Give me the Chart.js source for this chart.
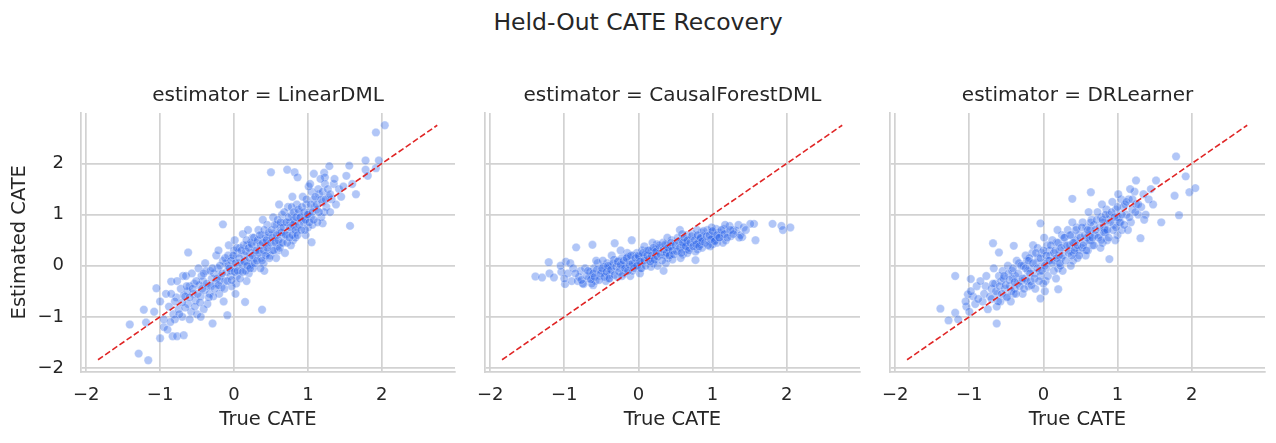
<!DOCTYPE html>
<html>
<head>
<meta charset="utf-8">
<script src="https://cdn.jsdelivr.net/npm/chart.js@4.4.1/dist/chart.umd.min.js"></script>
<style>
  html, body { margin: 0; padding: 0; background: #ffffff; }
  body { width: 1276px; height: 443px; position: relative; overflow: hidden; font-family: "DejaVu Sans", sans-serif; }
  #suptitle { position: absolute; left: 0; width: 1276px; top: 8px; text-align: center; font-size: 23.5px; color: #262626; }
  .panel { position: absolute; top: 80px; height: 363px; }
</style>
</head>
<body>
<div id="suptitle">Held-Out CATE Recovery</div>
<div class="panel" style="left:0px;width:460px"><canvas id="chartLinear"></canvas></div>
<div class="panel" style="left:460px;width:405px"><canvas id="chartForest"></canvas></div>
<div class="panel" style="left:865px;width:411px"><canvas id="chartDr"></canvas></div>
<script>
// facet titles and shared axes
const panelTitles = ['estimator = LinearDML', 'estimator = CausalForestDML', 'estimator = DRLearner'];
const axisTicks = [-2, -1, 0, 1, 2];
const axisRange = [-2.07, 2.99];
const diagonalEnds = [-1.84, 2.75];

// [true CATE, estimated CATE]
const linearDmlPoints = [
  [2.04,2.75],[1.92,2.61],[1.78,2.06],[1.96,2.06],[1.78,1.88],[1.81,1.76],[1.92,1.91],[1.56,1.96],[1.52,1.76],[1.29,1.95],
  [1.57,0.78],[0.50,1.83],[0.72,1.88],[0.82,1.83],[0.86,1.73],[0.38,-0.86],[1.05,0.46],[1.20,0.83],[-1.41,-1.15],[-1.29,-1.72],
  [-1.16,-1.85],[-1.22,-0.86],[-1.19,-1.11],[-1.05,-0.44],[-1.00,-1.42],[-0.95,-1.20],[-0.62,0.26],[-0.15,0.81],[-0.09,-0.97],[-0.29,-1.13],
  [0.15,-0.71],[-0.85,-0.31],[-0.69,-0.20],[-0.83,-1.38],[-0.77,-1.38],[-0.68,-1.36],[1.22,1.82],[1.08,1.80],[1.23,1.73],
  [-1.08,-0.90],[-1.00,-0.70],[-0.95,-1.05],[-0.92,-0.55],[-0.90,-1.25],[1.60,1.60],[1.65,1.40],
  [-0.82,-0.95],[-0.78,-0.62],[-0.75,-0.85],[-0.72,-0.45],[-0.80,-0.70],[-0.70,-1.00],[-0.68,-0.58],[-0.85,-0.55],[-0.77,-0.30],[-0.88,-0.80],
  [-0.62,-0.75],[-0.60,-0.40],[-0.58,-0.90],[-0.65,-0.20],[-0.55,-0.55],[-0.52,-0.68],[-0.63,-0.50],[-0.57,-0.15],[-0.50,-0.95],[-0.66,-0.82],[-0.54,-0.35],
  [-0.45,-0.60],[-0.42,-0.30],[-0.40,-0.48],[-0.38,-0.10],[-0.36,-0.75],[-0.44,-0.20],[-0.35,-0.40],[-0.48,-0.05],[-0.41,-0.85],[-0.33,-0.55],[-0.39,0.05],[-0.47,-0.38],[-0.30,-0.25],
  [-0.25,-0.35],[-0.22,-0.05],[-0.20,-0.55],[-0.18,-0.20],[-0.15,0.10],[-0.28,-0.60],[-0.12,-0.30],[-0.24,0.20],[-0.17,-0.42],[-0.10,-0.12],[-0.21,0.30],[-0.14,-0.70],[-0.27,-0.15],[-0.11,0.05],[-0.19,-0.28],
  [-0.05,-0.20],[-0.02,0.15],[0.00,-0.05],[0.03,-0.35],[0.05,0.25],[-0.07,0.40],[0.02,-0.55],[0.06,0.05],[-0.04,-0.10],[0.08,0.35],[0.01,0.50],[0.04,-0.20],[-0.08,0.00],[0.09,-0.10],[0.00,0.30],[-0.03,-0.40],
  [0.15,0.10],[0.18,0.40],[0.20,-0.15],[0.22,0.25],[0.25,0.55],[0.17,-0.30],[0.24,0.05],[0.28,0.30],[0.12,0.62],[0.21,0.00],[0.26,-0.05],[0.19,0.70],[0.14,0.20],[0.23,0.45],[0.29,0.15],[0.16,-0.10],
  [0.35,0.30],[0.38,0.60],[0.40,0.05],[0.42,0.45],[0.45,0.80],[0.37,0.15],[0.44,0.25],[0.48,0.60],[0.33,0.70],[0.41,-0.10],[0.46,0.40],[0.39,0.90],[0.43,0.55],[0.36,-0.05],[0.49,0.20],[0.31,0.45],
  [0.55,0.50],[0.58,0.80],[0.60,0.30],[0.62,0.65],[0.65,1.00],[0.57,0.15],[0.64,0.45],[0.68,0.85],[0.53,0.95],[0.61,1.20],[0.66,0.60],[0.59,0.38],[0.63,0.75],[0.56,0.65],[0.69,0.25],[0.52,0.30],
  [0.75,0.70],[0.78,1.00],[0.80,0.50],[0.82,0.85],[0.85,1.20],[0.77,0.40],[0.84,0.65],[0.88,1.05],[0.73,1.15],[0.81,0.90],[0.86,0.75],[0.79,1.35],[0.83,0.55],[0.76,0.85],[0.89,0.95],[0.72,0.60],
  [0.95,0.90],[0.98,1.20],[1.00,0.75],[1.02,1.05],[1.05,1.45],[0.97,0.60],[1.04,0.95],[1.08,1.30],[0.93,1.35],[1.01,1.55],[1.06,0.80],[0.99,1.00],[1.03,1.60],[0.96,0.70],[1.09,1.15],
  [1.12,1.10],[1.15,1.40],[1.18,0.95],[1.20,1.25],[1.23,1.60],[1.14,1.50],[1.25,1.15],[1.17,1.70],[1.28,1.35],[1.13,0.85],[1.22,1.05],
  [1.32,1.30],[1.35,1.60],[1.38,1.20],[1.42,1.50],[1.45,1.35],[1.36,1.70],[1.48,1.55],[1.30,1.05],
  [-0.70,-0.72],[-0.66,-0.60],[-0.64,-0.40],[-0.60,-0.62],[-0.56,-0.45],[-0.53,-0.80],[-0.51,-0.30],[-0.49,-0.55],[-0.46,-0.72],[-0.43,-0.45],
  [-0.41,-0.15],[-0.37,-0.35],[-0.34,-0.62],[-0.32,-0.10],[-0.31,-0.40],[-0.29,-0.05],[-0.26,-0.45],[-0.23,-0.25],[-0.21,-0.38],[-0.19,0.00],
  [-0.16,-0.15],[-0.13,-0.45],[-0.12,0.15],[-0.09,-0.30],[-0.08,0.20],[-0.06,-0.05],[-0.04,0.10],[-0.03,-0.28],[-0.01,0.20],[0.01,-0.12],
  [0.02,0.05],[0.04,0.35],[0.05,-0.10],[0.07,0.15],[0.08,-0.25],[0.10,0.30],[0.11,0.02],[0.12,-0.12],[0.13,0.40],[0.14,0.08],
  [0.16,0.28],[0.17,0.50],[0.18,0.00],[0.20,0.35],[0.21,0.15],[0.22,-0.05],[0.24,0.42],[0.25,0.20],[0.27,0.55],[0.28,0.05],
  [0.30,0.30],[0.31,0.10],[0.32,0.50],[0.34,0.25],[0.35,0.60],[0.36,0.40],[0.38,0.10],[0.39,0.45],[0.40,0.30],[0.41,0.70],
  [0.43,0.20],[0.44,0.50],[0.45,0.35],[0.47,0.65],[0.48,0.15],[0.50,0.45],[0.51,0.70],[0.52,0.55],[0.54,0.30],[0.55,0.80],
  [0.56,0.45],[0.58,0.60],[0.59,0.90],[0.60,0.50],[0.62,0.35],[0.63,0.85],[0.64,0.65],[0.66,0.45],[0.67,0.75],[0.68,1.05],
  [0.70,0.60],[0.71,0.85],[0.72,0.45],[0.74,0.95],[0.75,0.55],[0.76,0.75],[0.78,1.15],[0.79,0.60],[0.80,0.80],[0.81,1.05],
  [0.83,0.70],[0.84,0.95],[0.86,0.60],[0.87,1.10],[0.88,0.80],[0.90,0.95],[0.91,0.70],[0.92,1.15],[0.94,0.85],[0.95,1.05],
  [0.97,0.90],[0.98,1.30],[1.00,1.00],[1.02,0.85],[1.04,1.20],[1.06,1.05],[1.08,0.90],[1.10,1.35],[1.12,1.20],[1.15,1.05],
  [1.18,1.30],[1.20,1.45],[1.24,1.30],[1.27,1.50],[1.30,1.40],
  [-0.74,-0.95],[-0.80,-1.05],[-0.86,-1.10],[-0.60,-1.05],[-0.45,-1.00]
];

const causalForestPoints = [
  [-1.39,-0.21],[-1.30,-0.23],[-1.21,0.07],[-1.20,-0.15],[-1.14,-0.23],[-1.04,-0.12],[-0.98,0.08],[-0.84,0.36],[-0.62,0.41],[1.81,0.82],
  [1.93,0.78],[2.05,0.75],[1.95,0.70],[1.58,0.50],[1.56,0.82],[1.51,0.82],[1.40,0.56],[0.77,0.11],[0.34,-0.10],[-0.99,-0.36],
  [-0.74,-0.36],[-0.61,-0.38],[-0.32,0.44],[-0.09,0.50],[0.56,0.70],
  [-0.95,-0.15],[-0.90,-0.30],[-0.92,0.05],[-1.00,-0.25],[-0.88,-0.05],[-1.05,0.00],
  [-0.82,-0.30],[-0.78,-0.10],[-0.80,-0.22],[-0.75,-0.35],[-0.85,-0.15],[-0.72,-0.05],[-0.77,-0.28],
  [-0.62,-0.20],[-0.60,-0.05],[-0.58,-0.30],[-0.65,-0.12],[-0.55,0.05],[-0.52,-0.20],[-0.63,-0.35],[-0.57,0.10],[-0.67,-0.25],[-0.50,-0.10],
  [-0.45,-0.15],[-0.42,0.05],[-0.40,-0.25],[-0.38,0.00],[-0.36,0.20],[-0.44,-0.30],[-0.35,-0.10],[-0.48,0.10],[-0.41,-0.05],[-0.33,0.12],[-0.39,-0.18],[-0.47,-0.02],
  [-0.25,-0.05],[-0.22,0.15],[-0.20,-0.15],[-0.18,0.05],[-0.15,0.25],[-0.28,-0.22],[-0.12,0.10],[-0.24,0.30],[-0.17,-0.10],[-0.10,-0.02],[-0.21,0.00],[-0.14,0.18],[-0.27,0.10],[-0.11,-0.20],
  [-0.05,0.05],[-0.02,0.25],[0.00,0.10],[0.03,-0.05],[0.05,0.30],[-0.07,0.20],[0.02,-0.15],[0.06,0.15],[-0.04,0.00],[0.08,0.38],[0.01,0.18],[0.04,0.08],[-0.08,-0.10],[0.09,0.22],
  [0.15,0.15],[0.18,0.30],[0.20,0.05],[0.22,0.25],[0.25,0.42],[0.17,-0.02],[0.24,0.20],[0.28,0.35],[0.12,0.30],[0.21,0.10],[0.26,0.00],[0.19,0.45],[0.14,0.12],[0.23,0.32],
  [0.35,0.25],[0.38,0.40],[0.40,0.15],[0.42,0.32],[0.45,0.50],[0.37,0.05],[0.44,0.22],[0.48,0.40],[0.33,0.45],[0.41,0.30],[0.46,0.12],[0.39,0.55],[0.43,0.38],[0.36,0.20],
  [0.55,0.30],[0.58,0.48],[0.60,0.22],[0.62,0.40],[0.65,0.60],[0.57,0.15],[0.64,0.32],[0.68,0.50],[0.53,0.55],[0.61,0.38],[0.66,0.25],[0.59,0.62],[0.63,0.45],[0.69,0.35],
  [0.75,0.40],[0.78,0.55],[0.80,0.32],[0.82,0.50],[0.85,0.65],[0.77,0.28],[0.84,0.42],[0.88,0.58],[0.73,0.62],[0.81,0.45],[0.86,0.35],[0.79,0.70],[0.83,0.52],
  [0.95,0.50],[0.98,0.65],[1.00,0.42],[1.02,0.58],[1.05,0.72],[0.97,0.38],[1.04,0.50],[1.08,0.65],[0.93,0.70],[1.01,0.55],[1.06,0.45],[0.99,0.75],
  [1.12,0.60],[1.15,0.72],[1.18,0.50],[1.20,0.65],[1.23,0.78],[1.14,0.45],[1.25,0.58],[1.17,0.80],[1.28,0.70],[1.10,0.55],
  [1.32,0.68],[1.35,0.80],[1.38,0.60],[1.42,0.75],[1.45,0.70],[1.36,0.55],
  [-0.70,-0.20],[-0.68,-0.10],[-0.64,-0.27],[-0.61,-0.15],[-0.59,-0.22],[-0.56,-0.08],[-0.53,-0.28],[-0.51,-0.15],[-0.49,-0.05],[-0.46,-0.22],
  [-0.43,-0.12],[-0.41,0.00],[-0.39,-0.25],[-0.37,-0.08],[-0.34,0.05],[-0.32,-0.18],[-0.30,-0.02],[-0.28,0.08],[-0.26,-0.12],[-0.24,0.02],
  [-0.22,-0.20],[-0.20,0.10],[-0.18,-0.05],[-0.16,0.15],[-0.14,-0.10],[-0.12,0.02],[-0.10,0.20],[-0.08,0.05],[-0.06,-0.05],[-0.04,0.15],
  [-0.02,0.00],[0.00,0.20],[0.02,0.08],[0.04,-0.05],[0.06,0.25],[0.08,0.10],[0.10,0.00],[0.12,0.20],[0.14,0.30],[0.16,0.08],
  [0.18,0.20],[0.20,0.35],[0.22,0.12],[0.24,0.28],[0.26,0.18],[0.28,0.40],[0.30,0.22],[0.32,0.10],[0.34,0.32],[0.36,0.42],
  [0.38,0.25],[0.40,0.35],[0.42,0.20],[0.44,0.45],[0.46,0.30],[0.48,0.22],[0.50,0.40],[0.52,0.28],[0.54,0.48],[0.56,0.35],
  [0.58,0.25],[0.60,0.45],[0.62,0.55],[0.64,0.38],[0.66,0.50],[0.68,0.30],[0.70,0.45],[0.72,0.58],[0.74,0.38],[0.76,0.50],
  [0.78,0.42],[0.80,0.60],[0.82,0.38],[0.84,0.55],[0.86,0.48],[0.88,0.68],[0.90,0.45],[0.92,0.58],[0.94,0.40],[0.96,0.60],
  [0.98,0.52],[1.00,0.68],[1.03,0.48],[1.06,0.60],[1.09,0.55],[1.12,0.70],[1.16,0.62],[1.20,0.55],[1.24,0.70],[1.28,0.62]
];

const drLearnerPoints = [
  [1.79,2.14],[1.92,1.75],[1.97,1.44],[2.05,1.52],[1.77,1.37],[1.83,0.99],[1.52,1.67],[1.25,1.67],[1.59,0.85],[1.31,0.54],
  [-1.39,-0.84],[-1.28,-1.07],[-1.19,-0.92],[-1.15,-1.05],[-1.19,-0.20],[-0.98,-0.26],[-0.63,-1.13],[-0.68,0.44],[-0.40,0.39],[-0.60,0.26],
  [-0.04,0.83],[0.39,1.31],[0.64,1.44],[0.89,0.13],[0.20,-0.46],[-0.04,-0.64],[-1.02,-0.56],[-1.04,-0.80],
  [-1.00,-0.90],[-0.95,-0.60],[-0.92,-0.75],[-0.90,-0.40],[-1.05,-0.70],[-0.98,-0.50],
  [-0.82,-0.70],[-0.78,-0.40],[-0.80,-0.55],[-0.75,-0.85],[-0.85,-0.30],[-0.72,-0.60],[-0.77,-0.20],[-0.88,-0.65],[-0.70,-0.45],
  [-0.62,-0.55],[-0.60,-0.20],[-0.58,-0.70],[-0.65,-0.35],[-0.55,-0.10],[-0.52,-0.45],[-0.63,-0.80],[-0.57,-0.30],[-0.67,-0.05],[-0.50,-0.60],[-0.54,-0.25],
  [-0.45,-0.40],[-0.42,-0.10],[-0.40,-0.55],[-0.38,-0.20],[-0.36,0.10],[-0.44,-0.70],[-0.35,-0.35],[-0.48,0.00],[-0.41,-0.25],[-0.33,0.05],[-0.39,-0.45],[-0.47,-0.15],[-0.30,-0.30],
  [-0.25,-0.25],[-0.22,0.10],[-0.20,-0.40],[-0.18,-0.05],[-0.15,0.25],[-0.28,-0.55],[-0.12,-0.15],[-0.24,0.20],[-0.17,-0.30],[-0.10,0.05],[-0.21,-0.10],[-0.14,0.40],[-0.27,0.00],[-0.11,-0.45],[-0.19,0.15],
  [-0.05,-0.10],[-0.02,0.25],[0.00,0.05],[0.03,-0.30],[0.05,0.40],[-0.07,0.15],[0.02,-0.50],[0.06,0.10],[-0.04,-0.20],[0.08,0.30],[0.01,0.55],[0.04,-0.05],[-0.08,0.35],[0.09,0.20],[0.00,-0.35],
  [0.15,0.10],[0.18,0.45],[0.20,-0.05],[0.22,0.30],[0.25,0.60],[0.17,-0.25],[0.24,0.15],[0.28,0.40],[0.12,0.50],[0.21,0.20],[0.26,-0.10],[0.19,0.70],[0.14,0.25],[0.23,0.00],[0.29,0.55],
  [0.35,0.30],[0.38,0.60],[0.40,0.10],[0.42,0.45],[0.45,0.75],[0.37,0.00],[0.44,0.35],[0.48,0.60],[0.33,0.70],[0.41,0.25],[0.46,0.15],[0.39,0.85],[0.43,0.50],[0.36,0.40],[0.49,0.30],
  [0.55,0.45],[0.58,0.75],[0.60,0.30],[0.62,0.60],[0.65,0.90],[0.57,0.20],[0.64,0.50],[0.68,0.80],[0.53,0.85],[0.61,1.05],[0.66,0.40],[0.59,0.55],[0.63,0.70],[0.69,0.60],[0.52,0.35],
  [0.75,0.60],[0.78,0.95],[0.80,0.45],[0.82,0.75],[0.85,1.10],[0.77,0.35],[0.84,0.65],[0.88,0.90],[0.73,1.05],[0.81,0.85],[0.86,0.50],[0.79,1.20],[0.83,0.70],[0.89,1.00],
  [0.95,0.80],[0.98,1.10],[1.00,0.60],[1.02,0.95],[1.05,1.30],[0.97,0.50],[1.04,0.85],[1.08,1.15],[0.93,1.25],[1.01,1.40],[1.06,0.70],[0.99,0.95],
  [1.12,1.00],[1.15,1.30],[1.18,0.85],[1.20,1.10],[1.23,1.45],[1.14,0.70],[1.25,1.20],[1.17,1.50],[1.28,1.00],[1.10,1.20],
  [1.32,1.15],[1.35,1.40],[1.38,1.00],[1.42,1.30],[1.45,1.50],[1.36,0.90],[1.48,1.20],
  [-0.70,-0.65],[-0.68,-0.35],[-0.64,-0.50],[-0.61,-0.70],[-0.59,-0.40],[-0.56,-0.55],[-0.53,-0.20],[-0.51,-0.38],[-0.49,-0.62],[-0.46,-0.28],
  [-0.43,-0.50],[-0.41,-0.05],[-0.39,-0.32],[-0.37,-0.55],[-0.34,-0.15],[-0.32,-0.40],[-0.30,0.00],[-0.28,-0.25],[-0.26,-0.45],[-0.24,-0.05],
  [-0.22,-0.30],[-0.20,0.10],[-0.18,-0.15],[-0.16,-0.38],[-0.14,0.05],[-0.12,-0.25],[-0.10,0.25],[-0.08,-0.05],[-0.06,-0.30],[-0.04,0.15],
  [-0.02,-0.10],[0.00,0.30],[0.02,0.00],[0.04,0.20],[0.06,-0.20],[0.08,0.10],[0.10,0.40],[0.12,0.05],[0.14,-0.10],[0.16,0.30],
  [0.18,0.15],[0.20,0.45],[0.22,0.05],[0.24,0.35],[0.26,0.20],[0.28,0.55],[0.30,0.10],[0.32,0.40],[0.34,0.25],[0.36,0.60],
  [0.38,0.20],[0.40,0.45],[0.42,0.30],[0.44,0.70],[0.46,0.40],[0.48,0.20],[0.50,0.55],[0.52,0.75],[0.54,0.40],[0.56,0.60],
  [0.58,0.30],[0.60,0.70],[0.62,0.50],[0.64,0.85],[0.66,0.55],[0.68,0.40],[0.70,0.70],[0.72,0.90],[0.74,0.55],[0.76,0.75],
  [0.78,0.50],[0.80,0.90],[0.82,0.65],[0.84,1.00],[0.86,0.70],[0.88,0.55],[0.90,0.85],[0.92,1.05],[0.94,0.70],[0.96,0.95],
  [0.98,0.75],[1.00,1.15],[1.03,0.85],[1.06,1.00],[1.09,0.80],[1.12,1.25],[1.16,0.95],[1.20,1.30],[1.24,1.05],[1.28,1.20]
];

Chart.defaults.font.family = '"DejaVu Sans", sans-serif';
Chart.defaults.color = '#262626';

const gridColor = '#d2d2d2';
const minusSign = v => String(v).replace('-', '\u2212');

function makePanel(canvasId, title, points, opts) {
  const ctx = document.getElementById(canvasId).getContext('2d');
  return new Chart(ctx, {
    type: 'scatter',
    data: {
      datasets: [
        {
          type: 'line',
          data: diagonalEnds.map(v => ({ x: v, y: v })),
          borderColor: '#e02626',
          borderWidth: 1.6,
          borderDash: [6, 2.7],
          pointRadius: 0,
          fill: false,
          order: 0
        },
        {
          data: points.map(p => ({ x: p[0], y: p[1] })),
          backgroundColor: 'rgba(38, 98, 232, 0.36)',
          borderColor: 'rgba(255, 255, 255, 0.4)',
          borderWidth: 0.7,
          pointRadius: 4.2,
          order: 1
        }
      ]
    },
    options: {
      responsive: true,
      maintainAspectRatio: false,
      animation: false,
      layout: { padding: { right: opts.padRight } },
      plugins: {
        legend: { display: false },
        tooltip: { enabled: false },
        title: {
          display: true,
          text: title,
          fullSize: false,
          color: '#262626',
          font: { size: 20, weight: 'normal' },
          padding: { top: 3.5, bottom: 5.5 }
        }
      },
      scales: {
        x: {
          type: 'linear',
          min: axisRange[0],
          max: axisRange[1],
          afterBuildTicks: s => { s.ticks = axisTicks.map(v => ({ value: v })); },
          afterFit: s => { s.height = 71.5; },
          grid: { color: gridColor, lineWidth: 1.7, drawTicks: false },
          border: { color: gridColor, width: 1.7 },
          ticks: { padding: 13, font: { size: 18 }, color: '#262626', callback: minusSign },
          title: { display: true, text: 'True CATE', font: { size: 19.5 }, color: '#262626', padding: { top: 0, bottom: 11.3 } }
        },
        y: {
          type: 'linear',
          min: axisRange[0],
          max: axisRange[1],
          afterBuildTicks: s => { s.ticks = axisTicks.map(v => ({ value: v })); },
          afterFit: s => { s.width = opts.axisWidth; },
          grid: { color: gridColor, lineWidth: 1.7, drawTicks: false },
          border: { color: gridColor, width: 1.7 },
          ticks: { display: opts.showY, padding: 17, font: { size: 18 }, color: '#262626', callback: minusSign },
          title: { display: opts.showY, text: 'Estimated CATE', font: { size: 19.5 }, color: '#262626', padding: { top: 8.5, bottom: 0 } }
        }
      }
    }
  });
}

makePanel('chartLinear', panelTitles[0], linearDmlPoints, { axisWidth: 81, padRight: 5, showY: true });
makePanel('chartForest', panelTitles[1], causalForestPoints, { axisWidth: 25, padRight: 5, showY: false });
makePanel('chartDr', panelTitles[2], drLearnerPoints, { axisWidth: 25, padRight: 11, showY: false });
</script>
</body>
</html>
